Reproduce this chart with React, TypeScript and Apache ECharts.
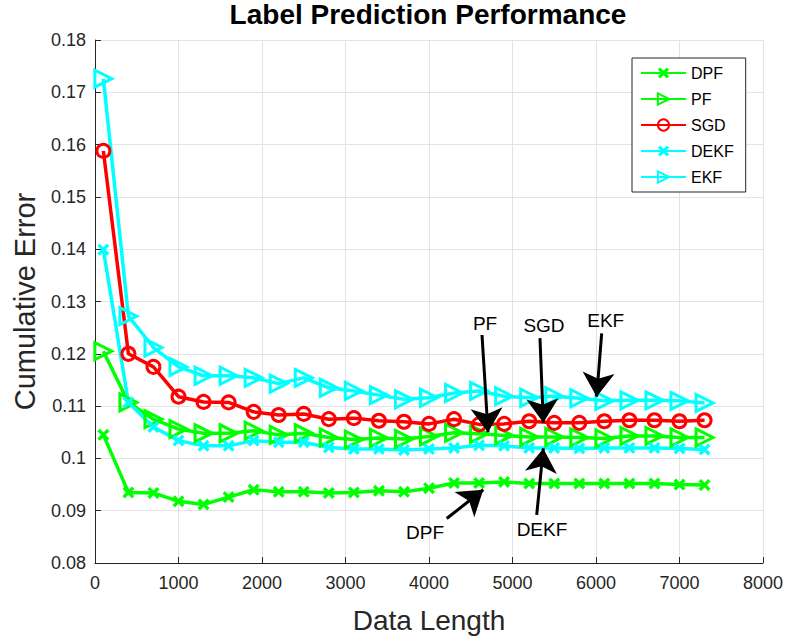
import React, { useEffect, useRef } from "react";
import * as echarts from "echarts";

const dataLength = [100, 400, 700, 1000, 1300, 1600, 1900, 2200, 2500, 2800, 3100, 3400, 3700, 4000, 4300, 4600, 4900, 5200, 5500, 5800, 6100, 6400, 6700, 7000, 7300];

const dpf = [0.1045, 0.0935, 0.0934, 0.0918, 0.0912, 0.0926, 0.0940, 0.0936, 0.0936, 0.0934, 0.0935, 0.0938, 0.0936, 0.0943, 0.0953, 0.0953, 0.0955, 0.0952, 0.0952, 0.0952, 0.0952, 0.0952, 0.0952, 0.0950, 0.0949];
const pf = [0.1205, 0.1107, 0.1075, 0.1056, 0.1048, 0.1048, 0.1053, 0.1045, 0.1048, 0.1040, 0.1036, 0.1039, 0.1037, 0.1042, 0.1049, 0.1047, 0.1044, 0.1041, 0.1041, 0.1040, 0.1038, 0.1043, 0.1043, 0.1040, 0.1040];
const sgd = [0.1588, 0.1200, 0.1175, 0.1118, 0.1108, 0.1107, 0.1089, 0.1083, 0.1085, 0.1075, 0.1077, 0.1072, 0.1070, 0.1066, 0.1075, 0.1065, 0.1066, 0.1071, 0.1068, 0.1068, 0.1071, 0.1073, 0.1073, 0.1071, 0.1073];
const dekf = [0.1399, 0.1107, 0.1060, 0.1034, 0.1024, 0.1024, 0.1034, 0.1031, 0.1031, 0.1021, 0.1018, 0.1018, 0.1016, 0.1018, 0.1020, 0.1025, 0.1024, 0.1020, 0.1020, 0.1019, 0.1020, 0.1020, 0.1020, 0.1019, 0.1017];
const ekf = [0.1726, 0.1272, 0.1212, 0.1175, 0.1158, 0.1158, 0.1154, 0.1143, 0.1154, 0.1135, 0.1129, 0.1121, 0.1113, 0.1116, 0.1125, 0.1129, 0.1119, 0.1116, 0.1119, 0.1115, 0.1110, 0.1111, 0.1111, 0.1110, 0.1106];

const seriesNames = ["DPF", "PF", "SGD", "DEKF", "EKF"];

// annotation arrows: [label, startX, startY, endX, endY]
const arrows: [string, number, number, number, number][] = [
  ["PF", 4635, 0.1236, 4707, 0.1050],
  ["SGD", 5329, 0.1230, 5369, 0.1068],
  ["EKF", 6068, 0.1239, 6008, 0.1118],
  ["DPF", 4212, 0.0885, 4650, 0.0940],
  ["DEKF", 5290, 0.0892, 5369, 0.1019],
];
// annotation texts: [label, centerX, centerY]
const arrowTexts: [string, number, number][] = [
  ["PF", 4671, 0.12583],
  ["SGD", 5377, 0.12532],
  ["EKF", 6116, 0.12633],
  ["DPF", 3952, 0.08574],
  ["DEKF", 5353, 0.08650],
];

const FONT = "'Liberation Sans', Arial, Helvetica, sans-serif";
const X_SYMBOL = "path://M2,0 L5,3 L8,0 L10,2 L7,5 L10,8 L8,10 L5,7 L2,10 L0,8 L3,5 L0,2 Z";

function mk(name: string, values: number[], color: string, marker: string) {
  const base: any = {
    name,
    type: "line",
    data: dataLength.map((x, i) => [x, values[i]]),
    lineStyle: { color, width: 3.5 },
    color,
    z: 3,
  };
  if (marker === "x") {
    base.symbol = X_SYMBOL;
    base.symbolSize = 12;
    base.itemStyle = { color };
  } else if (marker === "tri") {
    base.symbol = "triangle";
    base.symbolSize = 17;
    base.symbolRotate = -90;
    base.itemStyle = { color: "rgba(255,255,255,0)", borderColor: color, borderWidth: 3 };
  } else {
    base.symbol = "circle";
    base.symbolSize = 13;
    base.itemStyle = { color: "rgba(255,255,255,0)", borderColor: color, borderWidth: 3 };
  }
  return base;
}

export default function App() {
  const ref = useRef<HTMLDivElement>(null);
  useEffect(() => {
    document.body.style.margin = "0";
    const chart = echarts.init(ref.current!, null, { renderer: "svg" });
    const option: any = {
      animation: false,
      backgroundColor: "#ffffff",
      textStyle: { fontFamily: FONT },
      graphic: [
        {
          type: "text",
          x: 428,
          y: 0,
          style: {
            text: "Label Prediction Performance",
            textAlign: "center",
            fill: "#000",
            font: `bold 28px ${FONT}`,
          },
        },
      ],
      grid: { left: 95, right: 28, top: 40, bottom: 79 },
      legend: {
        data: seriesNames,
        orient: "vertical",
        left: 632,
        top: 58,
        backgroundColor: "#fff",
        borderColor: "#262626",
        borderWidth: 1,
        padding: [7, 12, 7, 8],
        itemWidth: 45,
        itemHeight: 14,
        itemGap: 10,
        textStyle: { fontSize: 16, color: "#000", fontFamily: FONT },
      },
      xAxis: {
        type: "value",
        min: 0,
        max: 8000,
        interval: 1000,
        name: "Data Length",
        nameLocation: "middle",
        nameGap: 43,
        nameTextStyle: { fontSize: 28, color: "#262626", fontFamily: FONT },
        axisLine: { show: true, lineStyle: { color: "#262626", width: 1 } },
        axisTick: { show: true, inside: true, length: 6, lineStyle: { color: "#262626" } },
        axisLabel: {
          fontSize: 18,
          color: "#262626",
          margin: 11,
          fontFamily: FONT,
          formatter: (v: number) => String(v),
        },
        splitLine: { show: true, lineStyle: { color: "#e3e3e3", width: 1 } },
      },
      yAxis: {
        type: "value",
        min: 0.08,
        max: 0.18,
        interval: 0.01,
        name: "Cumulative Error",
        nameLocation: "middle",
        nameGap: 56,
        nameTextStyle: { fontSize: 29, color: "#262626", fontFamily: FONT },
        axisLine: { show: true, lineStyle: { color: "#262626", width: 1 } },
        axisTick: { show: true, inside: true, length: 6, lineStyle: { color: "#262626" } },
        axisLabel: {
          fontSize: 18,
          color: "#262626",
          margin: 9,
          fontFamily: FONT,
          formatter: (v: number) => String(parseFloat(v.toFixed(2))),
        },
        splitLine: { show: true, lineStyle: { color: "#e3e3e3", width: 1 } },
      },
      series: [
        mk("DPF", dpf, "#00ff00", "x"),
        mk("PF", pf, "#00ff00", "tri"),
        mk("SGD", sgd, "#ff0000", "o"),
        mk("DEKF", dekf, "#00ffff", "x"),
        mk("EKF", ekf, "#00ffff", "tri"),
        {
          name: "annotations",
          type: "line",
          data: [],
          z: 5,
          markLine: {
            silent: true,
            symbol: ["none", "arrow"],
            symbolSize: 24,
            lineStyle: { color: "#000", width: 3, type: "solid" },
            label: { show: false },
            data: arrows.map(([n, x1, y1, x2, y2]) => [
              { name: n, coord: [x1, y1] },
              { coord: [x2, y2] },
            ]),
          },
          markPoint: {
            silent: true,
            symbol: "circle",
            symbolSize: 0,
            label: {
              show: true,
              position: "inside",
              formatter: "{b}",
              color: "#000",
              fontSize: 19,
              fontFamily: FONT,
            },
            data: arrowTexts.map(([n, x, y]) => ({ name: n, coord: [x, y] })),
          },
        },
      ],
    };
    chart.setOption(option);
    return () => chart.dispose();
  }, []);
  return <div ref={ref} style={{ width: 791, height: 642 }} />;
}
